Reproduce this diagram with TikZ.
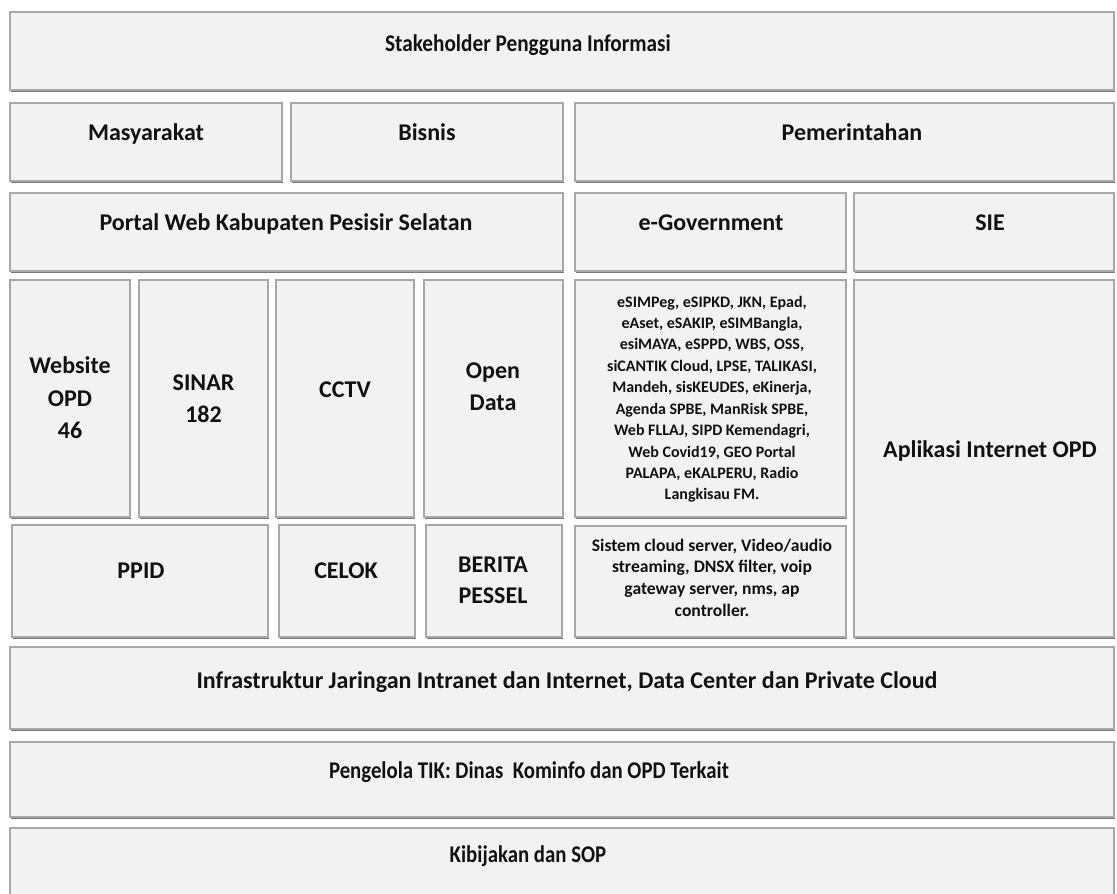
\documentclass[tikz,border=0pt]{standalone}
\usepackage{fontspec}
\usepackage{graphicx}
\setmainfont{Carlito}
\usetikzlibrary{shadows,fit}
\definecolor{boxfill}{HTML}{F2F2F2}
\definecolor{boxline}{HTML}{A8A8A8}
\definecolor{boxshadow}{HTML}{7A7A7A}
\definecolor{txt}{HTML}{111111}
\newcommand\condtxt[2]{\scalebox{#1}[1]{#2}}
\tikzset{
  pbox/.style={draw=boxline, line width=1.2pt, fill=boxfill, inner sep=0pt,
    drop shadow={shadow xshift=0.8pt, shadow yshift=-2.4pt, fill=boxshadow, opacity=1}},
  lbl/.style={font=\bfseries\fontsize{24}{30}\selectfont, text=txt, inner sep=0pt, anchor=base},
  sml/.style={font=\bfseries\fontsize{16}{20}\selectfont, text=txt, inner sep=0pt, anchor=base},
  smlb/.style={font=\bfseries\fontsize{17.6}{21}\selectfont, text=txt, inner sep=0pt, anchor=base},
}
\begin{document}
\begin{tikzpicture}[x=1pt,y=-1pt]
\useasboundingbox[fill=white] (0,0) rectangle (1117,894);
% boxes
\node[pbox, fit={(10,12) (1114,90)}] (stake) {};
\node[pbox, fit={(10,103) (282,181)}] (masy) {};
\node[pbox, fit={(291,103) (563,181)}] (bisnis) {};
\node[pbox, fit={(575,103) (1114,181)}] (pemer) {};
\node[pbox, fit={(10,193) (563,271)}] (portal) {};
\node[pbox, fit={(575,193) (846,271)}] (egov) {};
\node[pbox, fit={(854,193) (1114,271)}] (sie) {};
\node[pbox, fit={(10,280) (130,517)}] (web) {};
\node[pbox, fit={(139,280) (268,517)}] (sinar) {};
\node[pbox, fit={(276,280) (414,517)}] (cctv) {};
\node[pbox, fit={(424,280) (563,517)}] (open) {};
\node[pbox, fit={(575,280) (846,517)}] (esim) {};
\node[pbox, fit={(854,280) (1114,637)}] (apl) {};
\node[pbox, fit={(12,525) (268,637)}] (ppid) {};
\node[pbox, fit={(279,525) (415,637)}] (celok) {};
\node[pbox, fit={(426,525) (562,637)}] (berita) {};
\node[pbox, fit={(575,526) (846,637)}] (sistem) {};
\node[pbox, fit={(10,647) (1114,729)}] (infra) {};
\node[pbox, fit={(10,742) (1114,817)}] (peng) {};
\node[pbox, fit={(10,828) (1114,910)}] (kib) {};
% labels
\node[lbl] (t-stake) at (528,51) {\condtxt{0.885}{Stakeholder Pengguna Informasi}};
\node[lbl] (t-masy) at (146,140) {Masyarakat};
\node[lbl] (t-bisnis) at (427,140) {Bisnis};
\node[lbl] (t-pemer) at (852,140) {Pemerintahan};
\node[lbl] (t-portal) at (286,230) {Portal Web Kabupaten Pesisir Selatan};
\node[lbl] (t-egov) at (711,230) {e-Government};
\node[lbl] (t-sie) at (990,230) {SIE};
\node[lbl] (t-web1) at (70,373) {Website};
\node[lbl] (t-web2) at (70,406) {OPD};
\node[lbl] (t-web3) at (70,438) {46};
\node[lbl] (t-sinar1) at (203.5,390) {SINAR};
\node[lbl] (t-sinar2) at (203.5,422) {182};
\node[lbl] (t-cctv) at (345,397) {CCTV};
\node[lbl] (t-open1) at (493,378) {Open};
\node[lbl] (t-open2) at (493,410) {Data};
\node[lbl] (t-ppid) at (141,578) {PPID};
\node[lbl] (t-celok) at (346,578) {CELOK};
\node[lbl] (t-ber1) at (493,572) {BERITA};
\node[lbl] (t-ber2) at (493,603) {PESSEL};
\node[lbl] (t-apl) at (990,457) {Aplikasi Internet OPD};
\node[lbl] (t-infra) at (567,688) {Infrastruktur Jaringan Intranet dan Internet, Data Center dan Private Cloud};
\node[lbl] (t-peng) at (529,778) {\condtxt{0.866}{Pengelola TIK: Dinas\ \ Kominfo dan OPD Terkait}};
\node[lbl] (t-kib) at (528,862) {\condtxt{0.867}{Kibijakan dan SOP}};
\foreach \t [count=\i] in {{eSIMPeg, eSIPKD, JKN, Epad,},{eAset, eSAKIP, eSIMBangla,},{esiMAYA, eSPPD, WBS, OSS,},{siCANTIK Cloud, LPSE, TALIKASI,},{Mandeh, sisKEUDES, eKinerja,},{Agenda SPBE, ManRisk SPBE,},{Web FLLAJ, SIPD Kemendagri,},{Web Covid19, GEO Portal},{PALAPA, eKALPERU, Radio},{Langkisau FM.}}
  \node[sml] (t-es\i) at (712,{307+(\i-1)*21.44}) {\t};
\foreach \t [count=\i] in {{Sistem cloud server, Video/audio},{streaming, DNSX filter, voip},{gateway server, nms, ap},{controller.}}
  \node[smlb] (t-sis\i) at (712,{551+(\i-1)*21.67}) {\t};
\end{tikzpicture}
\end{document}
